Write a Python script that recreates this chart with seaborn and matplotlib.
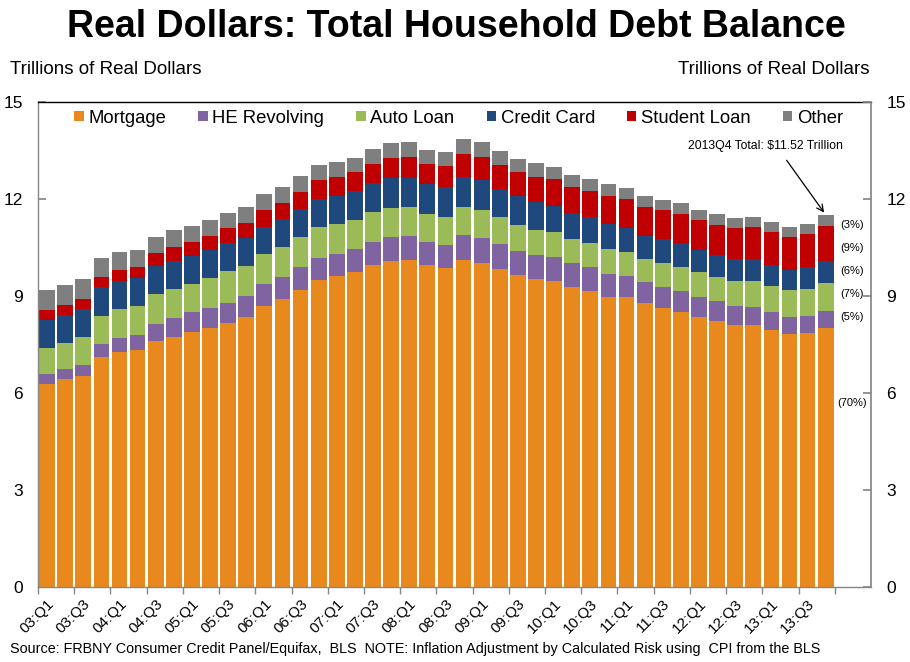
import numpy as np
import pandas as pd
import matplotlib
matplotlib.use('Agg')
import matplotlib.pyplot as plt
import seaborn as sns
from matplotlib.patches import Patch
from matplotlib.ticker import FixedLocator
import matplotlib.transforms as mtransforms

sns.set_theme(style='white')
plt.rcParams['font.family'] = ['Liberation Sans', 'DejaVu Sans']
plt.rcParams['text.color'] = 'black'
plt.rcParams['xtick.color'] = 'black'
plt.rcParams['ytick.color'] = 'black'
plt.rcParams['axes.labelcolor'] = 'black'
NARROW = ['Liberation Sans Narrow', 'Liberation Sans', 'DejaVu Sans']

# Quarters 2003Q1 .. 2013Q4
years = [f'{y:02d}' for y in range(3, 14)]
quarters = [f'{y}:Q{q}' for y in years for q in range(1, 5)]

# Trillions of real dollars
mortgage = [6.28, 6.44, 6.53, 7.11, 7.27, 7.34, 7.62, 7.74, 7.90, 8.01,
            8.17, 8.34, 8.69, 8.91, 9.19, 9.50, 9.62, 9.74, 9.96, 10.08,
            10.11, 9.96, 9.87, 10.11, 10.02, 9.84, 9.65, 9.53, 9.47, 9.28,
            9.16, 8.97, 8.97, 8.78, 8.63, 8.51, 8.35, 8.23, 8.10, 8.10,
            7.95, 7.83, 7.86, 8.01]
he_revolving = [0.31, 0.30, 0.34, 0.42, 0.43, 0.45, 0.51, 0.59, 0.61, 0.62,
                0.61, 0.66, 0.68, 0.68, 0.71, 0.68, 0.68, 0.71, 0.71, 0.75,
                0.75, 0.71, 0.71, 0.78, 0.78, 0.77, 0.74, 0.74, 0.74, 0.74,
                0.74, 0.71, 0.65, 0.64, 0.65, 0.65, 0.62, 0.62, 0.59, 0.56,
                0.56, 0.52, 0.52, 0.52]
auto_loan = [0.80, 0.81, 0.86, 0.86, 0.90, 0.90, 0.94, 0.89, 0.86, 0.93,
             0.99, 0.93, 0.93, 0.93, 0.93, 0.96, 0.93, 0.90, 0.93, 0.89,
             0.89, 0.87, 0.86, 0.86, 0.86, 0.83, 0.81, 0.77, 0.77, 0.74,
             0.74, 0.77, 0.74, 0.73, 0.74, 0.74, 0.77, 0.74, 0.78, 0.81,
             0.80, 0.84, 0.84, 0.87]
credit_card = [0.87, 0.85, 0.86, 0.88, 0.86, 0.88, 0.87, 0.86, 0.87, 0.86,
               0.87, 0.86, 0.84, 0.85, 0.86, 0.87, 0.86, 0.89, 0.88, 0.92,
               0.89, 0.92, 0.93, 0.93, 0.93, 0.87, 0.89, 0.87, 0.80, 0.81,
               0.80, 0.78, 0.75, 0.72, 0.74, 0.74, 0.68, 0.68, 0.68, 0.68,
               0.65, 0.62, 0.68, 0.68]
student_loan = [0.31, 0.32, 0.33, 0.33, 0.35, 0.34, 0.40, 0.45, 0.43, 0.44,
                0.46, 0.46, 0.52, 0.51, 0.53, 0.58, 0.59, 0.60, 0.60, 0.63,
                0.66, 0.62, 0.65, 0.71, 0.71, 0.75, 0.75, 0.77, 0.84, 0.80,
                0.81, 0.86, 0.89, 0.88, 0.90, 0.90, 0.93, 0.93, 0.96, 0.99,
                1.02, 1.02, 1.02, 1.09]
other = [0.62, 0.62, 0.61, 0.59, 0.55, 0.51, 0.49, 0.52, 0.51, 0.50,
         0.47, 0.50, 0.50, 0.49, 0.49, 0.46, 0.46, 0.43, 0.47, 0.46,
         0.46, 0.44, 0.43, 0.47, 0.46, 0.43, 0.40, 0.43, 0.37, 0.37,
         0.37, 0.38, 0.35, 0.34, 0.31, 0.34, 0.31, 0.34, 0.30, 0.30,
         0.31, 0.31, 0.31, 0.34]

series = ['Mortgage', 'HE Revolving', 'Auto Loan', 'Credit Card', 'Student Loan', 'Other']
colors = ['#E8891E', '#8064A2', '#9BBB59', '#1F497D', '#C00000', '#7F7F7F']
share_labels = ['(3%)', '(9%)', '(6%)', '(7%)', '(5%)', '(70%)']

df = pd.DataFrame({'quarter': quarters, 'Mortgage': mortgage,
                   'HE Revolving': he_revolving, 'Auto Loan': auto_loan,
                   'Credit Card': credit_card, 'Student Loan': student_loan,
                   'Other': other})
cum = df[series].cumsum(axis=1)
cum['quarter'] = df['quarter']
n = len(quarters)

fig = plt.figure(figsize=(9.1, 6.62), dpi=100)
ax = fig.add_axes([38 / 910, 1 - 587 / 662, (871 - 38) / 910, (587 - 102) / 662])

# stacked bars: draw cumulative totals from the top layer down
for name, col in reversed(list(zip(series, colors))):
    sns.barplot(data=cum, x='quarter', y=name, color=col, saturation=1,
                width=0.87, errorbar=None, linewidth=0, ax=ax)

ax.set_xlim(-0.5, n + 1.5)
ax.set_ylim(0, 15)
ax.set_xlabel('')
ax.set_ylabel('')
ax.set_yticks(np.arange(0, 16, 3))
ax.tick_params(axis='y', direction='in', length=6, color='#868686',
               labelsize=12.5, pad=11, left=True)

ax.set_xticks(np.arange(0, n, 2))
ax.set_xticklabels(quarters[::2], rotation=45, ha='right', va='top',
                   rotation_mode='anchor', fontsize=11)
ax.tick_params(axis='x', which='major', length=0, pad=7)
ax.xaxis.set_minor_locator(FixedLocator(np.arange(-0.5, n, 2)))
ax.tick_params(axis='x', which='minor', length=5, direction='out',
               color='#868686', bottom=True)
offset = mtransforms.ScaledTranslation(0, 0, fig.dpi_scale_trans)
for lbl in ax.get_xticklabels():
    lbl.set_transform(lbl.get_transform() + offset)

for side in ['left', 'bottom']:
    ax.spines[side].set_color('#868686')
    ax.spines[side].set_linewidth(1)
ax.spines['top'].set_color('black')
ax.spines['top'].set_linewidth(1)
ax.spines['right'].set_visible(False)

ax2 = ax.twinx()
ax2.set_ylim(0, 15)
ax2.set_yticks(np.arange(0, 16, 3))
ax2.tick_params(axis='y', direction='in', length=6, color='#868686',
                labelsize=12.5, pad=11, right=True)
for side in ['left', 'top', 'bottom']:
    ax2.spines[side].set_visible(False)
ax2.spines['right'].set_color('#868686')

handles = [Patch(facecolor=c, edgecolor='none', label=s) for s, c in zip(series, colors)]
ax.legend(handles=handles, loc='center', bbox_to_anchor=(0.505, 0.967), ncol=6,
          frameon=False, fontsize=13.3, handlelength=0.5, handleheight=0.5,
          handletextpad=0.25, columnspacing=1.75, borderaxespad=0)

# 2013Q4 callout
total_last = cum['Other'].iloc[-1]
fig.text(765 / 910, 1 - 146 / 662, '2013Q4 Total: $11.52 Trillion', ha='center',
         va='center', fontsize=8.8, family=NARROW)
ax.annotate('', xy=(n - 1, total_last), xytext=(785, 662 - 158),
            textcoords='figure pixels',
            arrowprops=dict(arrowstyle='->', color='black', lw=0.9,
                            mutation_scale=12))

share_y = [11.2, 10.49, 9.77, 9.06, 8.35, 5.69]
for txt, yy in zip(share_labels, share_y):
    ax.text(n + 0.45, yy, txt, ha='center', va='center', fontsize=8)

fig.text(456 / 910, 1 - 27 / 662, 'Real Dollars: Total Household Debt Balance',
         ha='center', va='center', fontsize=27, fontweight='bold')
fig.text(10 / 910, 1 - 69 / 662, 'Trillions of Real Dollars', ha='left',
         va='center', fontsize=13.5)
fig.text(870 / 910, 1 - 69 / 662, 'Trillions of Real Dollars', ha='right',
         va='center', fontsize=13.5)
fig.text(10 / 910, 1 - 649 / 662,
         'Source: FRBNY Consumer Credit Panel/Equifax,  BLS  NOTE: Inflation '
         'Adjustment by Calculated Risk using  CPI from the BLS',
         ha='left', va='center', fontsize=10.4, family=NARROW)

fig.savefig('out.png', dpi=100)
